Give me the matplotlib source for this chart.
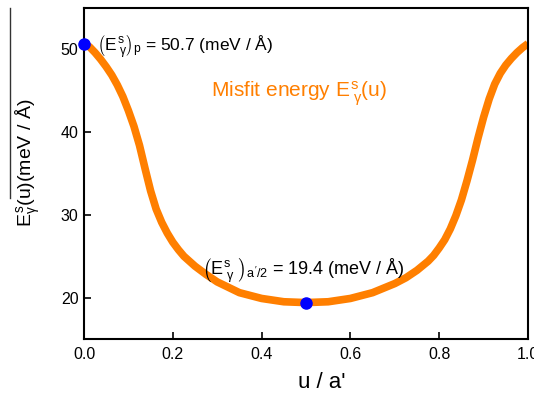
import matplotlib

matplotlib.use("Agg")
import matplotlib.pyplot as plt
from matplotlib.lines import Line2D

plt.rcParams["font.family"] = ["Liberation Sans", "DejaVu Sans"]
plt.rcParams["mathtext.fontset"] = "custom"
plt.rcParams["mathtext.rm"] = "Liberation Sans"
plt.rcParams["mathtext.it"] = "Liberation Sans"
plt.rcParams["mathtext.bf"] = "Liberation Sans:bold"

# misfit energy profile along the slip path
u = [0.0, 0.0125, 0.025, 0.0375, 0.05, 0.0625, 0.075, 0.0875, 0.1, 0.1125,
     0.125, 0.1375, 0.15, 0.1625, 0.175, 0.1875, 0.2, 0.2125, 0.225, 0.25,
     0.275, 0.3, 0.35, 0.4, 0.45, 0.5, 0.55, 0.6, 0.65, 0.7, 0.725, 0.75,
     0.775, 0.7875, 0.8, 0.8125, 0.825, 0.8375, 0.85, 0.8625, 0.875, 0.8875,
     0.9, 0.9125, 0.925, 0.9375, 0.95, 0.9625, 0.975, 0.9875, 1.0]
energy = [50.7, 50.3, 49.6, 48.8, 47.9, 46.9, 45.7, 44.3, 42.6, 40.7,
          38.4, 35.6, 32.9, 30.7, 29.1, 27.8, 26.7, 25.8, 25.0, 23.8,
          22.8, 21.9, 20.6, 19.9, 19.5, 19.4, 19.5, 19.9, 20.6, 21.7, 22.4, 23.3,
          24.4, 25.1, 26.0, 27.0, 28.3, 29.9, 31.8, 34.1, 36.6, 39.3,
          41.8, 44.0, 45.8, 47.1, 48.1, 48.9, 49.6, 50.2, 50.7]

# marked points: peak and mid-path minimum
mark_u = [0.0, 0.5]
mark_e = [50.7, 19.4]

W, H = 534, 394
fig = plt.figure(figsize=(W / 100, H / 100), dpi=100)
ax = fig.add_axes([84 / W, 1 - 339 / H, (528 - 84) / W, (339 - 8) / H])

ax.plot(u, energy, color="#ff7f00", lw=5.5, solid_capstyle="butt",
        solid_joinstyle="round", zorder=2)
ax.plot(mark_u, mark_e, "o", color="#0000ff", ms=8, zorder=3, clip_on=False)

ax.set_xlim(0, 1.0)
ax.set_ylim(15, 55)
ax.set_xticks([0.0, 0.2, 0.4, 0.6, 0.8, 1.0])
ax.set_xticklabels(["0.0", "0.2", "0.4", "0.6", "0.8", "1.0"])
ax.set_yticks([20, 30, 40, 50])
ax.tick_params(direction="in", length=5, width=1.2, labelsize=11.5, pad=6)
ax.tick_params(axis="y", pad=4)
for s in ax.spines.values():
    s.set_linewidth(1.5)

ax.text(0.03, mark_e[0] - 0.4,
        r"$\left(E^{s}_{\ \gamma}\right)_{p}$ = 50.7 (meV / Å)",
        fontsize=12.5, ha="left", va="center", color="black")
ax.text(0.265, mark_e[1] + 3.9,
        r"$\left(E^{s}_{\ \gamma}\ \right)_{a'/2}$ = 19.4 (meV / Å)",
        fontsize=13, ha="left", va="center", color="black")
ax.text(0.285, 44.6, r"Misfit energy $E^{s}_{\ \gamma}$(u)",
        fontsize=15, ha="left", va="center", color="#ff7f00")

fig.text(322 / W, 1 - 383 / H, "u / a'", fontsize=16, ha="center", va="center")
fig.text(28 / W, 1 - 163 / H, r"$E^{s}_{\gamma}$(u)(meV / Å)", fontsize=14,
         rotation=90, ha="center", va="center")
fig.add_artist(Line2D([10 / W, 10 / W], [1 - 8 / H, 1 - 198 / H],
                      color="#333333", lw=1))

fig.savefig("out.png", dpi=100, facecolor="white")
